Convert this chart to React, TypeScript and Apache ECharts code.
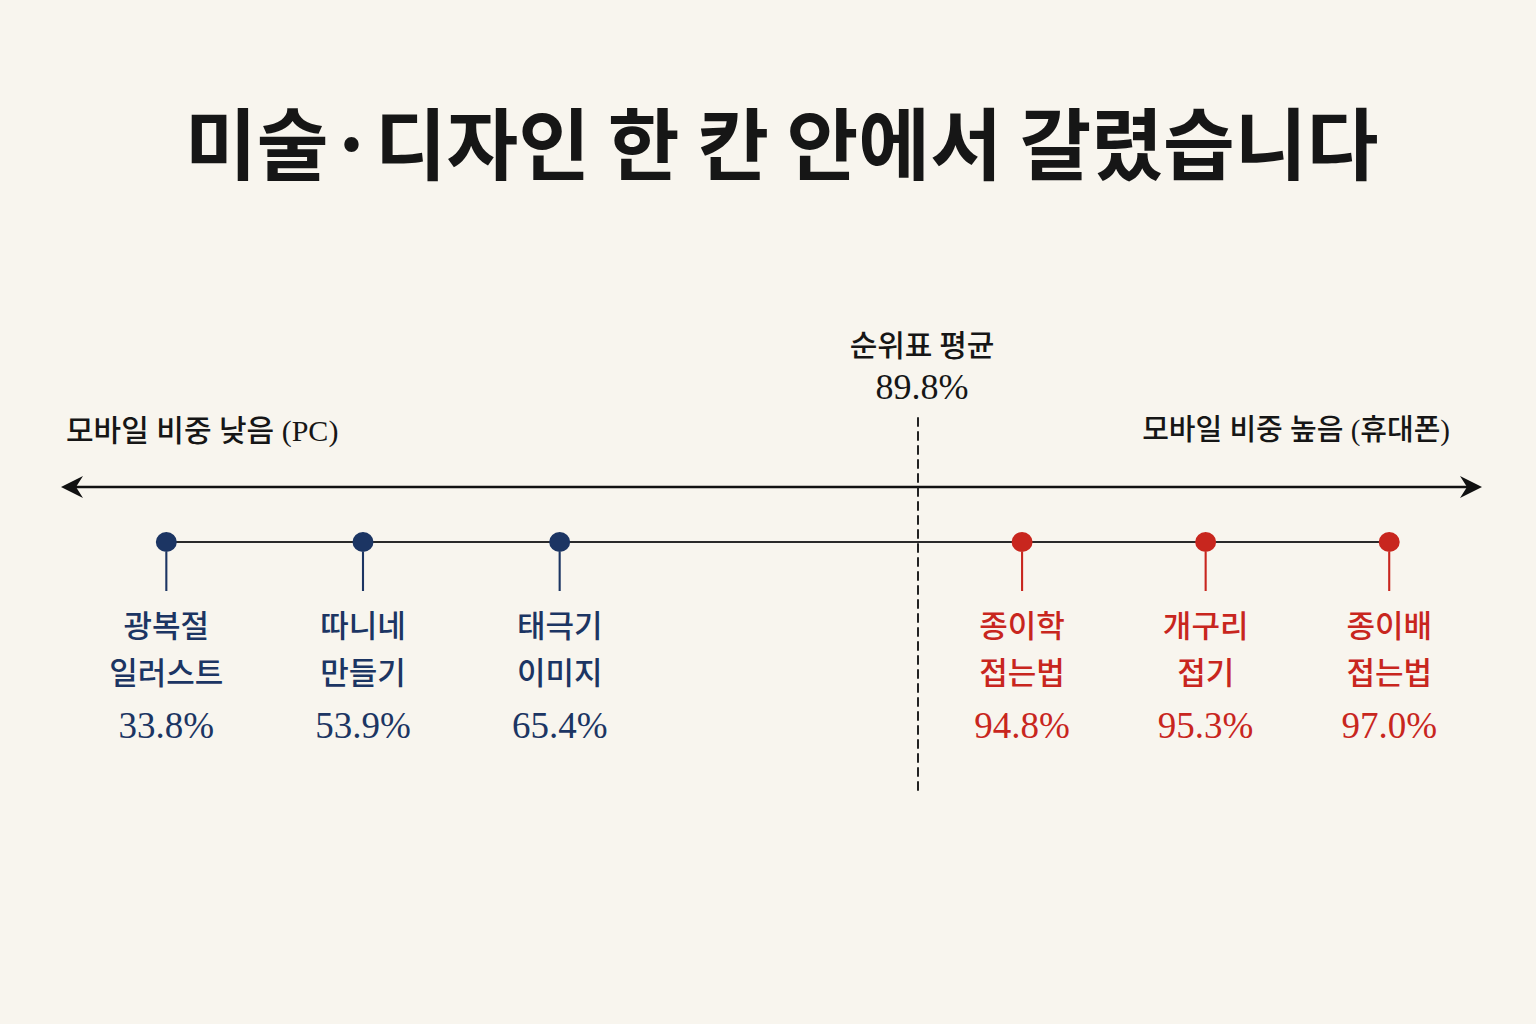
import React, { useEffect, useRef } from "react";
import * as echarts from "echarts";

const titleText = "미술·디자인 한 칸 안에서 갈렸습니다";
const lowSideLabel = "모바일 비중 낮음 (PC)";
const highSideLabel = "모바일 비중 높음 (휴대폰)";
const avgLabel = "순위표 평균";
const avgValue = 89.8;
const pcNames = ["광복절 일러스트", "따니네 만들기", "태극기 이미지"];
const pcValues = [33.8, 53.9, 65.4];
const mobileNames = ["종이학 접는법", "개구리 접기", "종이배 접는법"];
const mobileValues = [94.8, 95.3, 97.0];

const NAVY = "#1c3563";
const RED = "#c8261e";
const INK = "#161616";
const KR = '"Noto Sans CJK KR", sans-serif';
const SERIF = '"Liberation Serif", "Noto Sans CJK KR", serif';

const pct = (v: number) => v.toFixed(1) + "%";

// circle (r=10) with a stem hanging below it
const stemSymbol =
  "path://M10,0 A10,10 0 1,1 10,20 A10,10 0 1,1 10,0 Z M9,18 L11,18 L11,59 L9,59 Z";

function makeSeries(names: string[], values: number[], color: string, idx: number) {
  return {
    type: "scatter",
    xAxisIndex: idx,
    yAxisIndex: idx,
    symbol: stemSymbol,
    symbolSize: [21, 59],
    symbolOffset: [0, 19.5],
    itemStyle: { color, borderWidth: 0, opacity: 1 },
    emphasis: { disabled: true },
    z: 5,
    label: {
      show: true,
      position: "bottom",
      distance: 9,
      opacity: 1,
      formatter: (p: any) => {
        const parts = String(p.name).split(" ");
        return `{n|${parts[0]}}\n{n|${parts[1]}}\n{v|${pct(p.value[2])}}`;
      },
      rich: {
        n: { fontFamily: KR, fontSize: 31, fontWeight: 500, lineHeight: 47, color },
        v: { fontFamily: SERIF, fontSize: 37, lineHeight: 63, color },
      },
    },
    data: names.map((n, i) => ({ name: n, value: [i, 0, values[i]] })),
  };
}

export default function App() {
  const ref = useRef<HTMLDivElement>(null);
  useEffect(() => {
    document.body.style.margin = "0";
    const chart = echarts.init(ref.current as HTMLDivElement, null, { renderer: "svg" });
    chart.setOption({
      animation: false,
      backgroundColor: "#f8f5ee",
      title: {
        text: titleText,
        left: 180,
        top: 96,
        textStyle: { fontFamily: KR, fontSize: 78, fontWeight: "bold", color: INK },
      },
      grid: [
        { left: 68, width: 590, top: 418, height: 372 },
        { left: 918, width: 563, top: 418, height: 372 },
      ],
      xAxis: [
        { type: "value", gridIndex: 0, min: -0.5, max: 2.5, show: false },
        { type: "value", gridIndex: 1, min: -0.567, max: 2.5, show: false },
      ],
      yAxis: [
        { type: "value", gridIndex: 0, min: -2, max: 1, show: false },
        {
          type: "value",
          gridIndex: 1,
          min: -2,
          max: 1,
          axisLine: { show: true, onZero: false, lineStyle: { type: [8, 6], width: 2, color: "#222" } },
          axisTick: { show: false },
          axisLabel: { show: false },
          splitLine: { show: false },
          name: `{a|${avgLabel}}\n{b|${pct(avgValue)}}`,
          nameLocation: "end",
          nameGap: 9,
          nameTextStyle: {
            align: "center",
            padding: [0, 0, 0, 8],
            rich: {
              a: { fontFamily: KR, fontSize: 30, fontWeight: 500, lineHeight: 44, color: INK, align: "center" },
              b: { fontFamily: SERIF, fontSize: 36, lineHeight: 44, color: INK, align: "center" },
            },
          },
        },
      ],
      series: [
        makeSeries(pcNames, pcValues, NAVY, 0),
        makeSeries(mobileNames, mobileValues, RED, 1),
      ],
    });

    const first = chart.convertToPixel({ xAxisIndex: 0, yAxisIndex: 0 } as any, [0, 0]) as number[];
    const last = chart.convertToPixel(
      { xAxisIndex: 1, yAxisIndex: 1 } as any,
      [mobileNames.length - 1, 0]
    ) as number[];

    const arrowY = 487;
    chart.setOption({
      graphic: [
        {
          type: "line",
          shape: { x1: first[0], y1: first[1], x2: last[0], y2: last[1] },
          style: { stroke: "#2a2a2a", lineWidth: 2 },
          z: 1,
        },
        {
          type: "line",
          shape: { x1: 76, y1: arrowY, x2: 1468, y2: arrowY },
          style: { stroke: "#111", lineWidth: 2.5 },
        },
        {
          type: "polygon",
          shape: { points: [[61, arrowY], [83, arrowY - 11], [76, arrowY], [83, arrowY + 11]] },
          style: { fill: "#111" },
        },
        {
          type: "polygon",
          shape: { points: [[1482, arrowY], [1460, arrowY - 11], [1467, arrowY], [1460, arrowY + 11]] },
          style: { fill: "#111" },
        },
        {
          type: "text",
          x: 66,
          y: 430,
          style: {
            text: lowSideLabel,
            font: `500 30px ${SERIF}`,
            fill: INK,
            textAlign: "left",
            textVerticalAlign: "middle",
          },
        },
        {
          type: "text",
          x: 1450,
          y: 430,
          style: {
            text: highSideLabel,
            font: `500 29px ${SERIF}`,
            fill: INK,
            textAlign: "right",
            textVerticalAlign: "middle",
          },
        },
      ],
    });

    return () => chart.dispose();
  }, []);
  return <div ref={ref} style={{ width: 1536, height: 1024 }} />;
}
